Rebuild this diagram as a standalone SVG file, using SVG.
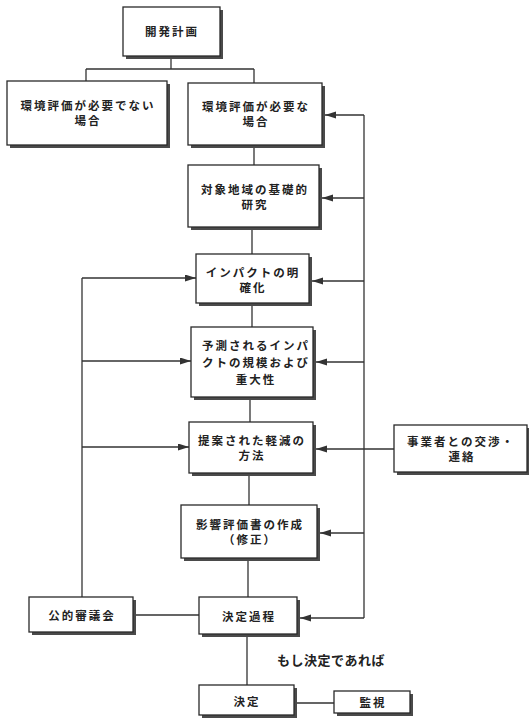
<svg xmlns="http://www.w3.org/2000/svg" width="529" height="718" viewBox="0 0 529 718">
<style>
.sh{fill:#4a4a4a}
.bx{fill:#fff;stroke:#2a2a2a;stroke-width:1.3}
.t{font-family:"Noto Sans CJK JP","Noto Sans CJK SC",sans-serif;font-size:11.5px;letter-spacing:2px;font-weight:bold;fill:#222;text-anchor:middle;dominant-baseline:central}
.ln{fill:none;stroke:#333;stroke-width:1.3}
</style>
<defs>
<marker id="ah" markerUnits="userSpaceOnUse" markerWidth="12" markerHeight="8" refX="11" refY="3.5" orient="auto">
<path d="M0,0 L11,3.5 L0,7 z" fill="#333"/>
</marker>
</defs>
<rect width="529" height="718" fill="#fff"/>
<g id="connectors" class="ln">
<path d="M171,56 V69 M86,69 H254 M86,69 V81 M254,69 V83"/>
<path d="M254,145 V165 M252,227 V254 M252,303 V327 M250,397 V422 M249,473 V505 M248,558 V597 M247,634 V685"/>
<path d="M294,703 H334 M133,615 H199"/>
<path d="M364,115 V618"/>
<path d="M364,115 H325" marker-end="url(#ah)"/>
<path d="M364,198 H322" marker-end="url(#ah)"/>
<path d="M364,281 H312" marker-end="url(#ah)"/>
<path d="M364,362 H316" marker-end="url(#ah)"/>
<path d="M394,449 H316" marker-end="url(#ah)"/>
<path d="M364,533 H320" marker-end="url(#ah)"/>
<path d="M364,618 H300" marker-end="url(#ah)"/>
<path d="M82,278 V597"/>
<path d="M82,278 H196" marker-end="url(#ah)"/>
<path d="M82,361 H191" marker-end="url(#ah)"/>
<path d="M82,447 H189" marker-end="url(#ah)"/>
</g>
<g id="n1"><rect class="sh" x="126" y="10" width="97" height="49"/><rect class="bx" x="123" y="7" width="97" height="49"/><text class="t" x="172" y="31">開発計画</text></g>
<g id="n2"><rect class="sh" x="10" y="84" width="160" height="64"/><rect class="bx" x="7" y="81" width="160" height="64"/><text class="t" x="88" y="105">環境評価が必要でない</text><text class="t" x="88" y="120">場合</text></g>
<g id="n3"><rect class="sh" x="191" y="86" width="134" height="62"/><rect class="bx" x="188" y="83" width="134" height="62"/><text class="t" x="256" y="106">環境評価が必要な</text><text class="t" x="256" y="121">場合</text></g>
<g id="n4"><rect class="sh" x="191" y="168" width="131" height="62"/><rect class="bx" x="188" y="165" width="131" height="62"/><text class="t" x="255" y="189">対象地域の基礎的</text><text class="t" x="255" y="204">研究</text></g>
<g id="n5"><rect class="sh" x="199" y="257" width="113" height="49"/><rect class="bx" x="196" y="254" width="113" height="49"/><text class="t" x="253" y="272">インパクトの明</text><text class="t" x="253" y="287">確化</text></g>
<g id="n6"><rect class="sh" x="194" y="330" width="122" height="70"/><rect class="bx" x="191" y="327" width="122" height="70"/><text class="t" x="256" y="345">予測されるインパ</text><text class="t" x="256" y="362">クトの規模および</text><text class="t" x="256" y="379">重大性</text></g>
<g id="n7"><rect class="sh" x="192" y="425" width="124" height="51"/><rect class="bx" x="189" y="422" width="124" height="51"/><text class="t" x="252" y="440">提案された軽減の</text><text class="t" x="252" y="455">方法</text></g>
<g id="n8"><rect class="sh" x="397" y="428" width="133" height="47"/><rect class="bx" x="394" y="425" width="133" height="47"/><text class="t" x="461" y="441">事業者との交渉・</text><text class="t" x="462" y="456">連絡</text></g>
<g id="n9"><rect class="sh" x="184" y="508" width="136" height="53"/><rect class="bx" x="181" y="505" width="136" height="53"/><text class="t" x="250" y="524">影響評価書の作成</text><text class="t" x="250" y="539">（修正）</text></g>
<g id="n10"><rect class="sh" x="32" y="600" width="104" height="35"/><rect class="bx" x="29" y="597" width="104" height="35"/><text class="t" x="82" y="615">公的審議会</text></g>
<g id="n11"><rect class="sh" x="202" y="600" width="98" height="37"/><rect class="bx" x="199" y="597" width="98" height="37"/><text class="t" x="249" y="616">決定過程</text></g>
<g id="n12"><rect class="sh" x="202" y="688" width="95" height="30"/><rect class="bx" x="199" y="685" width="95" height="30"/><text class="t" x="247" y="701">決定</text></g>
<g id="n13"><rect class="sh" x="337" y="694" width="76" height="22"/><rect class="bx" x="334" y="691" width="76" height="22"/><text class="t" x="373" y="702">監視</text></g>
<text class="t" x="331" y="659" style="font-size:13px;letter-spacing:0.5px">もし決定であれば</text>
</svg>
